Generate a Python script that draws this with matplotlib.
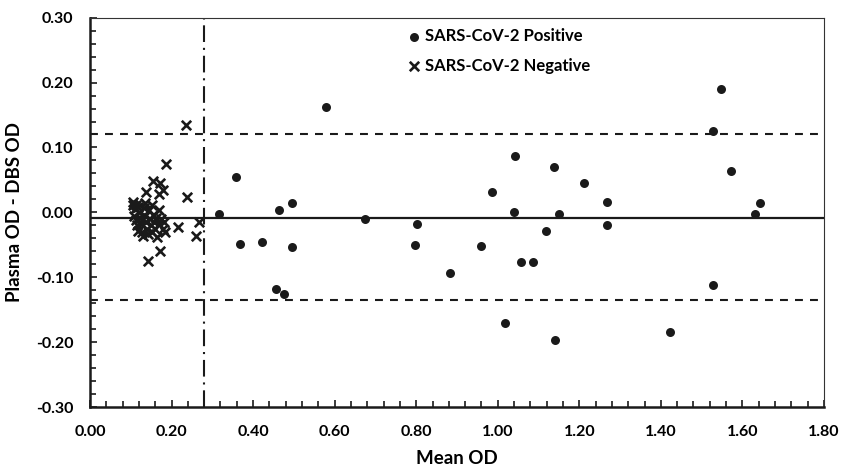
import matplotlib
matplotlib.use("Agg")
import matplotlib.pyplot as plt
from matplotlib.ticker import MultipleLocator, FormatStrFormatter

plt.rcParams['font.family'] = ['Lato', 'DejaVu Sans']
plt.rcParams['font.weight'] = 'bold'

# SARS-CoV-2 positive samples (mean OD, plasma - DBS)
pos_mean = [0.317, 0.358, 0.368, 0.421, 0.463, 0.456, 0.476, 0.496, 0.496, 0.579,
            0.675, 0.801, 0.796, 0.884, 0.960, 0.986, 1.017, 1.043, 1.039, 1.056,
            1.086, 1.119, 1.139, 1.140, 1.150, 1.212, 1.269, 1.267, 1.423, 1.528,
            1.527, 1.548, 1.573, 1.631, 1.643]
pos_diff = [-0.002, 0.055, -0.049, -0.045, 0.004, -0.118, -0.126, 0.014, -0.053, 0.163,
            -0.011, -0.018, -0.050, -0.093, -0.052, 0.032, -0.171, 0.087, 0.000, -0.077,
            -0.077, -0.028, 0.070, -0.197, -0.002, 0.046, 0.016, -0.019, -0.185, 0.125,
            -0.112, 0.190, 0.063, -0.002, 0.014]

# SARS-CoV-2 negative samples
neg_mean = [0.236, 0.186, 0.239, 0.268, 0.215, 0.260, 0.172, 0.141, 0.154, 0.172,
            0.137, 0.180, 0.168, 0.106, 0.114, 0.151, 0.168, 0.165,
            0.105, 0.110, 0.108, 0.112, 0.115, 0.118, 0.120, 0.122, 0.125, 0.128,
            0.130, 0.132, 0.135, 0.138, 0.140, 0.142, 0.145, 0.148, 0.150, 0.152,
            0.155, 0.158, 0.160, 0.162, 0.170, 0.175, 0.178, 0.182, 0.185, 0.118,
            0.135]
neg_diff = [0.135, 0.074, 0.024, -0.0145, -0.023, -0.0365, -0.060, -0.0745, 0.048, 0.046,
            0.032, 0.035, 0.029, 0.016, 0.011, 0.011, 0.0035, -0.0385,
            0.012, 0.005, -0.005, -0.012, -0.020, -0.028, 0.000, -0.008, -0.018, -0.030,
            -0.036, 0.006, -0.005, -0.015, -0.025, -0.033, 0.004, -0.010, -0.020, -0.030,
            -0.004, -0.015, -0.025, -0.008, -0.018, -0.010, -0.025, -0.015, -0.030, 0.008,
            0.015]

bias = -0.008
upper_loa = 0.120
lower_loa = -0.135
cutoff = 0.28

fig = plt.figure(figsize=(8.42, 4.68), dpi=100)
ax = fig.add_axes([0.1069, 0.1303, 0.8717, 0.8319])

ax.axhline(bias, color='#1a1a1a', lw=1.6, zorder=1)
ax.axhline(upper_loa, color='#1a1a1a', lw=1.5, dashes=(3.8, 3.4), zorder=1)
ax.axhline(lower_loa, color='#1a1a1a', lw=1.5, dashes=(3.8, 3.4), zorder=1)
ax.axvline(cutoff, color='#1a1a1a', lw=1.5, dashes=(8, 2.8, 1, 2.8), zorder=1)

ax.scatter(pos_mean, pos_diff, s=42, marker='o', color='#1a1a1a', lw=0,
           label='SARS-CoV-2 Positive', zorder=3)
ax.scatter(neg_mean, neg_diff, s=46, marker='x', color='#1a1a1a', lw=1.9,
           label='SARS-CoV-2 Negative', zorder=3)

ax.set_xlim(0, 1.8)
ax.set_ylim(-0.3, 0.3)
ax.xaxis.set_major_locator(MultipleLocator(0.2))
ax.xaxis.set_minor_locator(MultipleLocator(0.04))
ax.yaxis.set_major_locator(MultipleLocator(0.1))
ax.yaxis.set_minor_locator(MultipleLocator(0.02))
ax.xaxis.set_major_formatter(FormatStrFormatter('%.2f'))
ax.yaxis.set_major_formatter(FormatStrFormatter('%.2f'))

ax.tick_params(which='both', direction='in', color='#1a1a1a', width=1.2,
               labelsize=11.5, top=False, right=False)
ax.tick_params(which='major', length=5)
ax.tick_params(which='minor', length=4)
ax.tick_params(axis='y', pad=12)
ax.tick_params(axis='x', pad=13)

for side in ['left', 'bottom']:
    ax.spines[side].set_linewidth(1.8)
    ax.spines[side].set_color('#1a1a1a')
for side in ['top', 'right']:
    ax.spines[side].set_linewidth(0.8)
    ax.spines[side].set_color('#333333')

ax.set_xlabel('Mean OD', fontsize=13.5, fontweight='bold', labelpad=8)
ax.set_ylabel('Plasma OD - DBS OD', fontsize=13.5, fontweight='bold', labelpad=9)

ax.legend(loc='upper left', bbox_to_anchor=(0.43, 0.973), frameon=False,
          fontsize=12, handletextpad=0.15, labelspacing=0.8, handlelength=1.0,
          borderaxespad=0, borderpad=0)

fig.savefig('out.png', dpi=100)
